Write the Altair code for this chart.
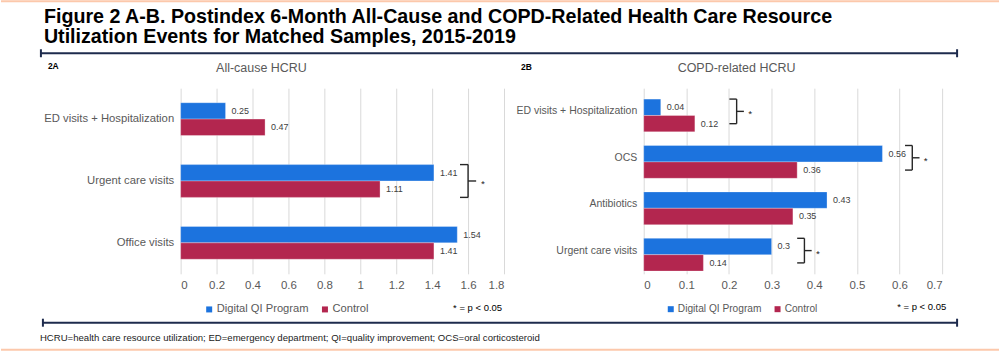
import altair as alt
import pandas as pd

FONT = "Liberation Sans, Arial, Helvetica, sans-serif"

# ---------------- data ----------------
groups = ["Digital QI Program", "Control"]
group_colors = ["#1c73de", "#b3264f"]

a_categories = ["ED visits + Hospitalization", "Urgent care visits", "Office visits"]
a_digital = [0.25, 1.41, 1.54]
a_control = [0.47, 1.11, 1.41]
a_sig_categories = ["Urgent care visits"]
a_sig_x = [1.6]
a_ticks = [0, 0.2, 0.4, 0.6, 0.8, 1, 1.2, 1.4, 1.6, 1.8]

b_categories = ["ED visits + Hospitalization", "OCS", "Antibiotics", "Urgent care visits"]
b_digital = [0.04, 0.56, 0.43, 0.3]
b_control = [0.12, 0.36, 0.35, 0.14]
b_sig_categories = ["ED visits + Hospitalization", "OCS", "Urgent care visits"]
b_sig_x = [0.218, 0.63, 0.377]
b_ticks = [0, 0.1, 0.2, 0.3, 0.4, 0.5, 0.6, 0.7]

title_line1 = "Figure 2 A-B. Postindex 6-Month All-Cause and COPD-Related Health Care Resource"
title_line2 = "Utilization Events for Matched Samples, 2015-2019"
footnote = ("HCRU=health care resource utilization; ED=emergency department; "
            "QI=quality improvement; OCS=oral corticosteroid")
sig_note = "* = p < 0.05"

NAVY = "#1e2b4d"
PEACH = "#fcc8ab"
GRAY = "#595959"


def text_layer(txt, x, y, size, color="#000000", weight="normal", align="left",
               baseline="middle", font=FONT):
    return alt.Chart(pd.DataFrame({"t": [txt]})).mark_text(
        align=align, baseline=baseline, fontSize=size, fontWeight=weight,
        color=color, font=font
    ).encode(x=alt.value(x), y=alt.value(y), text="t:N")


def hrule(x1, x2, y, color, w):
    return alt.Chart(pd.DataFrame({"k": [0]})).mark_rule(
        color=color, strokeWidth=w
    ).encode(x=alt.value(x1), x2=alt.value(x2), y=alt.value(y))


def vrule(x, y1, y2, color, w):
    return alt.Chart(pd.DataFrame({"k": [0]})).mark_rule(
        color=color, strokeWidth=w
    ).encode(x=alt.value(x), y=alt.value(y1), y2=alt.value(y2))


def panel(cats, dig, ctl, sig_cats, sig_x, ticks, xmax, width, ylab_size,
          leg_size, leg_x, col_pad, d):
    df = pd.DataFrame({
        "category": cats + cats,
        "group": [groups[0]] * len(cats) + [groups[1]] * len(cats),
        "value": dig + ctl,
    })
    sig = pd.DataFrame({"category": sig_cats, "bx": sig_x})

    y_scale = alt.Scale(domain=cats, paddingInner=0.47, paddingOuter=0.235)
    y_axis = alt.Axis(title=None, domain=False, ticks=False, labelFontSize=ylab_size,
                      labelColor=GRAY, labelPadding=7, labelFont=FONT, labelLimit=300)
    x_scale = alt.Scale(domain=[0, xmax], nice=False, zero=True)
    x_axis = alt.Axis(title=None, values=ticks, format="~g", domain=False, ticks=False,
                      grid=True, gridColor="#d9d9d9", gridWidth=1,
                      labelFontSize=11.5, labelColor=GRAY, labelPadding=6, labelFont=FONT)

    def X(f):
        return alt.X(f, scale=x_scale, axis=x_axis)

    def Y(bp=None):
        if bp is None:
            return alt.Y("category:N", scale=y_scale, axis=y_axis)
        return alt.Y("category:N", scale=y_scale, axis=y_axis, bandPosition=bp)

    yoff = alt.YOffset("group:N", scale=alt.Scale(domain=groups))

    bars = alt.Chart(df).mark_bar(stroke="#ffffff", strokeWidth=0.6, strokeOpacity=0.5).encode(
        x=X("value:Q"),
        y=Y(),
        yOffset=yoff,
        color=alt.Color("group:N", scale=alt.Scale(domain=groups, range=group_colors),
                        legend=alt.Legend(title=None, orient="none", legendX=leg_x, legendY=216,
                                          direction="horizontal", symbolType="square",
                                          symbolSize=36, symbolStrokeWidth=0,
                                          labelFontSize=leg_size, labelColor=GRAY,
                                          labelFont=FONT, columnPadding=col_pad,
                                          labelOffset=2, padding=0)),
    )
    labels = alt.Chart(df).mark_text(align="left", baseline="middle", dx=6, fontSize=9,
                                     color="#404040", font=FONT).encode(
        x=X("value:Q"), y=Y(), yOffset=yoff,
        text=alt.Text("value:Q", format="~g"),
    )

    bk = dict(color="#262626", strokeWidth=1.4)
    vert = alt.Chart(sig).mark_rule(**bk).encode(
        x=X("bx:Q"), y=Y(0), y2=alt.Y2("category:N", bandPosition=1))
    top = alt.Chart(sig).transform_calculate(x0=f"datum.bx - {d}").mark_rule(**bk).encode(
        x=X("x0:Q"), x2=alt.X2("bx:Q"), y=Y(0))
    bot = alt.Chart(sig).transform_calculate(x0=f"datum.bx - {d}").mark_rule(**bk).encode(
        x=X("x0:Q"), x2=alt.X2("bx:Q"), y=Y(1))
    mid = alt.Chart(sig).transform_calculate(x1=f"datum.bx + {d}").mark_rule(**bk).encode(
        x=X("bx:Q"), x2=alt.X2("x1:Q"), y=Y(0.5))
    star = alt.Chart(sig).transform_calculate(xs=f"datum.bx + {d * 1.6}", s="'*'").mark_text(
        align="left", baseline="middle", dy=3, fontSize=10, color="#222222", font=FONT
    ).encode(x=X("xs:Q"), y=Y(0.5), text="s:N")

    return [bars, labels, vert, top, bot, mid, star]


left_layers = panel(a_categories, a_digital, a_control, a_sig_categories, a_sig_x,
                    a_ticks, 1.8, 324, 11.3, 11.2, 23, 10, 0.045)
right_layers = panel(b_categories, b_digital, b_control, b_sig_categories, b_sig_x,
                     b_ticks, 0.7, 299, 10.5, 10.2, 22, 11, 0.017)

# annotations (left panel origin at 180, 88)
left_ann = [
    hrule(-180, 820, -87, PEACH, 2),
    hrule(-180, 820, 262, PEACH, 2),
    text_layer(title_line1, -137, -65, 19.7, weight="bold", baseline="alphabetic"),
    text_layer(title_line2, -137, -45, 19.7, weight="bold", baseline="alphabetic"),
    hrule(-140, 778, -35, NAVY, 2),
    vrule(-140, -39, -31, NAVY, 2),
    vrule(778, -39, -31, NAVY, 2),
    text_layer("2A", -133, -22, 8.5, weight="bold"),
    text_layer("All-cause HCRU", 81, -20, 12.5, color=GRAY, align="center"),
    text_layer(sig_note, 273, 220, 9.5),
    hrule(-138, 778, 235, NAVY, 2),
    vrule(-138, 231, 239, NAVY, 2),
    vrule(778, 231, 239, NAVY, 2),
    text_layer(footnote, -141, 250, 9.6, color="#222222"),
]
right_ann = [
    text_layer("2B", -123, -21, 8.5, weight="bold"),
    text_layer("COPD-related HCRU", 93, -20, 12.5, color=GRAY, align="center"),
    text_layer(sig_note, 254, 219, 9.5),
]

left = alt.layer(*left_layers, *left_ann).properties(width=324, height=186)
right = alt.layer(*right_layers, *right_ann).properties(width=299, height=186)

chart = alt.hconcat(left, right, spacing=140, bounds="flush").resolve_legend(
    color="independent"
).properties(padding=0).configure_view(strokeWidth=0)

chart.save("out.html", embed_options={"renderer": "svg", "actions": False})
